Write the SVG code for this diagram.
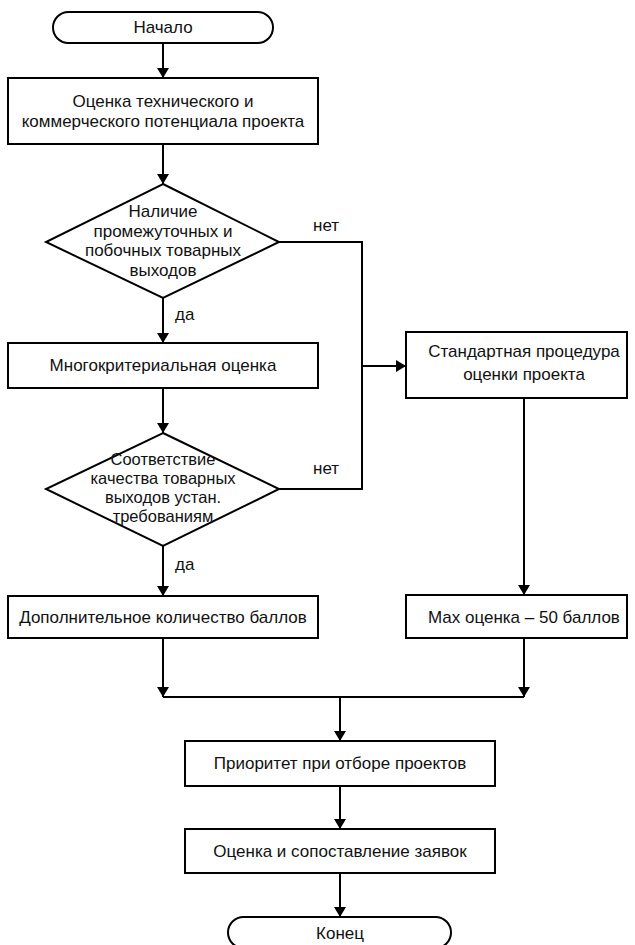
<svg xmlns="http://www.w3.org/2000/svg" width="635" height="945" viewBox="0 0 635 945">
<style>
.s{fill:#fff;stroke:#000;stroke-width:2}
.c{fill:none;stroke:#000;stroke-width:2}
text{font-family:"Liberation Sans",Arial,sans-serif;font-size:17px;fill:#111;text-anchor:middle}
.l{text-anchor:start}
.d{font-size:16.5px}
</style>
<defs>
<marker id="a" markerWidth="10" markerHeight="12" refX="10" refY="6" orient="auto" markerUnits="userSpaceOnUse"><path d="M0,0L10,6L0,12z" fill="#000"/></marker>
</defs>
<g id="connectors">
<path class="c" d="M163,43V78" marker-end="url(#a)"/>
<path class="c" d="M163,144V184" marker-end="url(#a)"/>
<path class="c" d="M163,298V343" marker-end="url(#a)"/>
<path class="c" d="M163,388V433" marker-end="url(#a)"/>
<path class="c" d="M163,546V596" marker-end="url(#a)"/>
<path class="c" d="M279,242H362V489H279"/>
<path class="c" d="M362,366H406" marker-end="url(#a)"/>
<path class="c" d="M524,398V595" marker-end="url(#a)"/>
<path class="c" d="M163,638V697" marker-end="url(#a)"/>
<path class="c" d="M524,638V697" marker-end="url(#a)"/>
<path class="c" d="M163,697H524"/>
<path class="c" d="M340,697V741" marker-end="url(#a)"/>
<path class="c" d="M340,786V829" marker-end="url(#a)"/>
<path class="c" d="M340,873V917" marker-end="url(#a)"/>
<text class="l" x="313" y="231">нет</text>
<text class="l" x="313" y="474">нет</text>
<text class="l" x="175" y="320">да</text>
<text class="l" x="175" y="570">да</text>
</g>
<g id="start"><rect class="s" x="53" y="12" width="220" height="31" rx="15.5"/><text x="163" y="33">Начало</text></g>
<g id="eval"><rect class="s" x="8" y="78" width="310" height="66"/><text x="163" y="107">Оценка технического и</text><text x="163" y="127">коммерческого потенциала проекта</text></g>
<g id="dec1"><path class="s" d="M163,184L279,242L163,298L46,242z"/><text x="163" y="217">Наличие</text><text x="163" y="237">промежуточных и</text><text x="163" y="256">побочных товарных</text><text x="163" y="276">выходов</text></g>
<g id="multi"><rect class="s" x="8" y="343" width="310" height="45"/><text x="163" y="371">Многокритериальная оценка</text></g>
<g id="dec2"><path class="s" d="M163,433L279,489L163,546L46,489z"/><text class="d" x="163" y="465">Соответствие</text><text class="d" x="163" y="484">качества товарных</text><text class="d" x="163" y="503">выходов устан.</text><text class="d" x="163" y="522">требованиям</text></g>
<g id="extra"><rect class="s" x="8" y="596" width="310" height="42"/><text x="163" y="623">Дополнительное количество баллов</text></g>
<g id="std"><rect class="s" x="406" y="332" width="221" height="66"/><text x="524" y="357">Стандартная процедура</text><text x="524" y="380">оценки проекта</text></g>
<g id="max"><rect class="s" x="406" y="595" width="221" height="43"/><text x="524" y="623">Max оценка – 50 баллов</text></g>
<g id="priority"><rect class="s" x="185" y="741" width="310" height="45"/><text x="340" y="769">Приоритет при отборе проектов</text></g>
<g id="compare"><rect class="s" x="185" y="829" width="310" height="44"/><text x="340" y="857">Оценка и сопоставление заявок</text></g>
<g id="end"><rect class="s" x="228" y="917" width="223" height="31" rx="15.5"/><text x="340" y="939">Конец</text></g>
</svg>
